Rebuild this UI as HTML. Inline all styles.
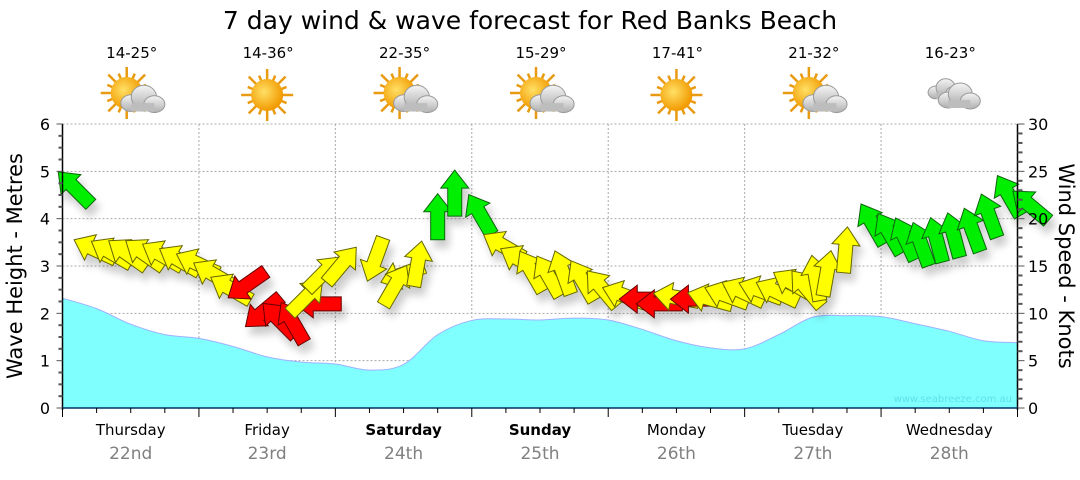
<!DOCTYPE html>
<html><head><meta charset="utf-8"><style>
body{margin:0;background:#fff;width:1080px;height:475px;overflow:hidden;font-family:"Liberation Sans",sans-serif}
svg text{font-family:"DejaVu Sans","Liberation Sans",sans-serif}
</style></head><body>
<svg id="c" width="1080" height="475" xmlns="http://www.w3.org/2000/svg">
<defs>
<filter id="sh" x="-50%" y="-50%" width="200%" height="200%"><feGaussianBlur in="SourceAlpha" stdDeviation="4"/><feOffset dx="4" dy="8"/><feComponentTransfer><feFuncA type="linear" slope="0.2"/></feComponentTransfer><feMerge><feMergeNode/><feMergeNode in="SourceGraphic"/></feMerge></filter>
<radialGradient id="sun" cx="0.4" cy="0.4" r="0.6"><stop offset="0" stop-color="#ffe066"/><stop offset="1" stop-color="#f29a00"/></radialGradient>
<linearGradient id="cl" x1="0" y1="0" x2="0" y2="1"><stop offset="0" stop-color="#f4f4f4"/><stop offset="1" stop-color="#b0b0b0"/></linearGradient>
</defs>
<text x="530" y="29" text-anchor="middle" font-size="25" fill="#000">7 day wind &amp; wave forecast for Red Banks Beach</text>
<g id="wx"></g>
<g id="grid"></g>
<path id="wave" fill="#80ffff" stroke="#a0b0ff" stroke-width="1"/>
<text x="1012" y="402" text-anchor="end" font-size="10" fill="#5ee0e6">www.seabreeze.com.au</text>
<g id="wind" filter="url(#sh)"></g>
<g id="axes"></g>
<text transform="translate(22,266) rotate(-90)" text-anchor="middle" font-size="21">Wave Height - Metres</text>
<text transform="translate(1059,266) rotate(90)" text-anchor="middle" font-size="21">Wind Speed - Knots</text>
</svg>
<script>
const days=["Thursday","Friday","Saturday","Sunday","Monday","Tuesday","Wednesday"];
const dates=["22nd","23rd","24th","25th","26th","27th","28th"];
const boldDays=[false,false,true,true,false,false,false];
const temps=["14-25°","14-36°","22-35°","15-29°","17-41°","21-32°","16-23°"];
const icons=["suncloud","sun","suncloud","suncloud","sun","suncloud","cloud"];
const waveMetres=[2.32,2.1,1.77,1.55,1.47,1.3,1.08,0.97,0.93,0.8,0.92,1.55,1.85,1.88,1.86,1.9,1.86,1.66,1.42,1.27,1.25,1.55,1.92,1.95,1.93,1.78,1.62,1.42,1.38];
const windKnots=[24.5,17.5,17.3,17.3,17.3,17,16.5,16,15,13.5,12,9,10.6,10.6,11,13,15.5,16.5,14,13.5,14.5,17,22,24.5,22,18,16.5,16,15.5,16,15,14,12.5,11.5,11,12,11.5,12,12.5,13,13,13,14,14,15.5,16,18.5,21,20,19.5,19,19.5,20,20.5,22,24,22.5];
const windDir=[315,295,300,305,305,300,300,295,300,300,235,230,315,330,270,45,45,40,200,250,30,10,0,0,330,300,300,330,330,340,330,320,290,270,270,280,270,285,290,295,290,295,300,320,350,10,5,330,330,335,340,345,345,340,340,330,310];
const windCat=["g","y","y","y","y","y","y","y","y","y","r","r","r","r","r","y","y","y","y","y","y","y","g","g","g","y","y","y","y","y","y","y","y","r","r","y","r","y","y","y","y","y","y","y","y","y","y","g","g","g","g","g","g","g","g","g","g"];

const NS="http://www.w3.org/2000/svg";
const X0=62.5,X1=1017.5,Y0=408,Y1=124;
const dayW=(X1-X0)/7;
const xHours=h=>X0+h/168*(X1-X0);
const yM=m=>Y0-m/6*(Y0-Y1);
const yK=k=>Y0-k/30*(Y0-Y1);
function el(t,a,p){const e=document.createElementNS(NS,t);for(const k in a)e.setAttribute(k,a[k]);(p||document.getElementById('c')).appendChild(e);return e;}

const grid=document.getElementById('grid');
for(let i=1;i<7;i++){const l=el('line',{x1:X0+i*dayW,x2:X0+i*dayW,y1:Y1,y2:Y0,stroke:'#aaa','stroke-dasharray':'2,2'},grid);

}
for(let m=1;m<=6;m++){const l=el('line',{x1:X0,x2:X1,y1:yM(m),y2:yM(m),stroke:'#aaa','stroke-dasharray':'2,2'},grid);

}

const pts=waveMetres.map((v,i)=>[xHours(i*6),yM(v)]);
let d=`M${X0},${Y0}L${pts[0][0]},${pts[0][1]}`;
for(let i=0;i<pts.length-1;i++){const p0=pts[Math.max(0,i-1)],p1=pts[i],p2=pts[i+1],p3=pts[Math.min(pts.length-1,i+2)];
d+=`C${p1[0]+(p2[0]-p0[0])/6},${p1[1]+(p2[1]-p0[1])/6} ${p2[0]-(p3[0]-p1[0])/6},${p2[1]-(p3[1]-p1[1])/6} ${p2[0]},${p2[1]}`;}
d+=`L${X1},${Y0}Z`;
document.getElementById('wave').setAttribute('d',d);

const wind=document.getElementById('wind');
const fills={g:'#00ee00',y:'#ffff00',r:'#ff0000'};
const strokes={g:'#116611',y:'#666600',r:'#660000'};
const arrowPts="0,0 14,18 7,18 7,46 -7,46 -7,18 -14,18";
windKnots.forEach((k,i)=>{
  const x=xHours(i*3),y=yK(k);
  const a=el('polygon',{points:arrowPts,transform:`translate(${x},${y}) rotate(${windDir[i]}) translate(0,-6)`,fill:fills[windCat[i]],stroke:strokes[windCat[i]],'stroke-width':1},wind);
  
  
});

const ax=document.getElementById('axes');
el('line',{x1:X0,x2:X0,y1:Y1,y2:Y0+2,stroke:'#000','stroke-width':1.5},ax);
el('line',{x1:X1,x2:X1,y1:Y1,y2:Y0+2,stroke:'#000','stroke-width':1.5},ax);
el('line',{x1:X0,x2:X1,y1:Y0,y2:Y0,stroke:'#003366','stroke-width':1.5},ax);
for(let q=0;q<=24;q++){const y=yM(q/4);el('line',{x1:X0-(q%4?4:6),x2:X0,y1:y,y2:y,stroke:'#555','stroke-width':q%4?2:1},ax);}
for(let m=0;m<=6;m++){const t=el('text',{x:50,y:yM(m)+6,'text-anchor':'end','font-size':16},ax);t.textContent=m;

}
for(let k=0;k<=30;k++){const y=yK(k);el('line',{x1:X1,x2:X1+(k%5?5:7),y1:y,y2:y,stroke:'#555','stroke-width':k%5?2:1},ax);}
for(let k=0;k<=30;k+=5){const t=el('text',{x:1028,y:yK(k)+6,'font-size':16},ax);t.textContent=k;

}
for(let q=0;q<=28;q++){const x=X0+q*dayW/4;el('line',{x1:x,x2:x,y1:Y0,y2:Y0+(q%4?5:9),stroke:'#000','stroke-width':1},ax);}
days.forEach((n,i)=>{const cx=X0+(i+0.5)*dayW;
const t=el('text',{x:cx,y:435,'text-anchor':'middle','font-size':15,'font-weight':boldDays[i]?'bold':'normal'},ax);t.textContent=n;


const t2=el('text',{x:cx,y:459,'text-anchor':'middle','font-size':17,fill:'#808080'},ax);t2.textContent=dates[i];

});

const wx=document.getElementById('wx');
function cloud(g,cx,cy,s){el('ellipse',{cx:cx-9*s,cy:cy+3*s,rx:10*s,ry:8*s,fill:'url(#cl)',stroke:'#999'},g);
el('ellipse',{cx:cx+3*s,cy:cy-3*s,rx:12*s,ry:11*s,fill:'url(#cl)',stroke:'#999'},g);
el('ellipse',{cx:cx+13*s,cy:cy+4*s,rx:10*s,ry:8*s,fill:'url(#cl)',stroke:'#999'},g);
el('rect',{x:cx-9*s,y:cy+3*s,width:22*s,height:8*s,fill:'#bdbdbd'},g);}
function sun(g,cx,cy){for(let a=0;a<360;a+=22.5){const r=a*Math.PI/180,l=(a/22.5)%2?21:26;
el('line',{x1:cx+15*Math.cos(r),y1:cy+15*Math.sin(r),x2:cx+l*Math.cos(r),y2:cy+l*Math.sin(r),stroke:'#e89a10','stroke-width':2.5},g);}
el('circle',{cx:cx,cy:cy,r:16,fill:'url(#sun)'},g);}
temps.forEach((tp,i)=>{const cx=X0+(i+0.5)*dayW;
const t=el('text',{x:cx+1,y:58,'text-anchor':'middle','font-size':15},wx);t.textContent=tp;


const g=el('g',{},wx);


if(icons[i]==='sun')sun(g,cx,95);
else if(icons[i]==='suncloud'){sun(g,cx-4,93);cloud(g,cx+10,100,1.05);}
else{cloud(g,cx-6,90,0.8);cloud(g,cx+8,97,1.0);}});
</script>
</body></html>
